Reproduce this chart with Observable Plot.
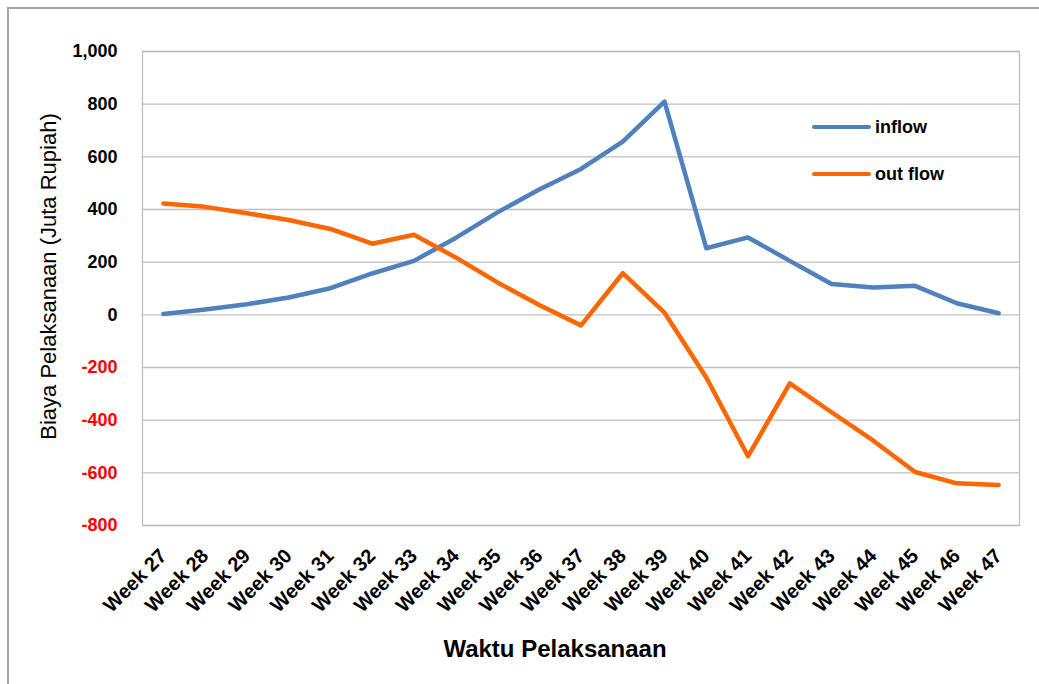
<!DOCTYPE html>
<html>
<head>
<meta charset="utf-8">
<script src="https://cdn.jsdelivr.net/npm/d3@7"></script>
<script src="https://cdn.jsdelivr.net/npm/@observablehq/plot@0.6"></script>
<style>
  html, body { margin: 0; padding: 0; background: #fff; }
  #wrap { position: relative; width: 1039px; height: 684px; font-family: "Liberation Sans", Arial, sans-serif; }
  #border { position: absolute; left: 7px; top: 7px; width: 1040px; height: 690px; border-top: 2px solid #a6a6a6; border-left: 2px solid #a6a6a6; pointer-events: none; }
  .leg { position: absolute; display: flex; align-items: center; font-weight: bold; font-size: 18px; color: #000; }
  .leg .sw { width: 59px; height: 4px; border-radius: 2px; margin-right: 4px; }
  #xtitle { position: absolute; left: 0; width: 1110px; top: 635px; text-align: center; font-weight: bold; font-size: 24px; color: #000; }
</style>
</head>
<body>
<div id="wrap">
  <div id="chart"></div>
  <div id="border"></div>
  <div id="xtitle">Waktu Pelaksanaan</div>
</div>
<script>
const weeks = ["Week 27","Week 28","Week 29","Week 30","Week 31","Week 32","Week 33","Week 34","Week 35","Week 36","Week 37","Week 38","Week 39","Week 40","Week 41","Week 42","Week 43","Week 44","Week 45","Week 46","Week 47"];
const inflow  = [3, 20, 40, 66, 101, 157, 205, 292, 389, 476, 554, 658, 810, 253, 294, 205, 117, 104, 110, 44, 6];
const outflow = [423, 410, 386, 360, 326, 270, 304, 218, 123, 37, -40, 158, 8, -238, -537, -260, -370, -478, -597, -640, -646];
const seriesNames = ["inflow", "out flow"];
const seriesColors = ["#4f81bd", "#ff6600"];
const yTicks = [-800, -600, -400, -200, 0, 200, 400, 600, 800, 1000];
const yTitle = "Biaya Pelaksanaan (Juta Rupiah)";

const rows = [];
weeks.forEach((w, i) => {
  rows.push({week: w, value: inflow[i], series: seriesNames[0]});
  rows.push({week: w, value: outflow[i], series: seriesNames[1]});
});

const fmt = d => d.toLocaleString("en-US");
const font = "'Liberation Sans', Arial, sans-serif";

const chart = Plot.plot({
  width: 1039,
  height: 684,
  marginLeft: 142,
  marginRight: 20,
  marginTop: 51,
  marginBottom: 159,
  style: {fontFamily: font, background: "transparent"},
  x: {type: "point", domain: weeks, padding: 0.5, round: false, axis: null},
  y: {domain: [-800, 1000], ticks: yTicks, axis: null},
  color: {domain: seriesNames, range: seriesColors},
  marks: [
    Plot.gridY(yTicks, {stroke: "#bfbfbf", strokeOpacity: 1, strokeWidth: 1.3}),
    Plot.frame({stroke: "#bfbfbf", strokeWidth: 1.3}),
    Plot.axisY(yTicks.filter(d => d >= 0), {tickSize: 0, tickPadding: 25, tickFormat: fmt, fontSize: 18, fontWeight: "bold", fill: "#000", label: null}),
    Plot.axisY(yTicks.filter(d => d < 0), {tickSize: 0, tickPadding: 25, tickFormat: fmt, fontSize: 18, fontWeight: "bold", fill: "#ff0000", label: null}),
    Plot.text(weeks, {x: d => d, frameAnchor: "bottom", dy: 27, dx: 0, rotate: -45, textAnchor: "end", lineAnchor: "middle", fontSize: 20, fontWeight: "bold", fill: "#000"}),
    Plot.text([yTitle], {frameAnchor: "left", rotate: -90, dx: -94, dy: -12, fontSize: 22, fill: "#000", textAnchor: "middle", lineAnchor: "middle"}),
    Plot.line(rows, {x: "week", y: "value", z: "series", stroke: "series", strokeWidth: 4.5, strokeLinejoin: "round", strokeLinecap: "round"})
  ]
});
document.getElementById("chart").appendChild(chart);

// legend
const wrap = document.getElementById("wrap");
const legTops = [116, 163];
seriesNames.forEach((name, i) => {
  const d = document.createElement("div");
  d.className = "leg";
  d.style.left = "812px";
  d.style.top = legTops[i] + "px";
  d.style.height = "22px";
  const sw = document.createElement("span");
  sw.className = "sw";
  sw.style.background = seriesColors[i];
  const t = document.createElement("span");
  t.textContent = name;
  d.appendChild(sw); d.appendChild(t);
  wrap.appendChild(d);
});
</script>
</body>
</html>
